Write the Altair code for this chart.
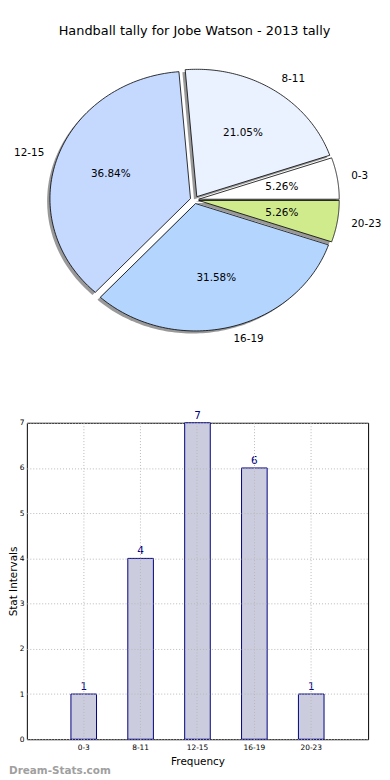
import altair as alt
import pandas as pd

# ---------------- data ----------------
categories = ["0-3", "8-11", "12-15", "16-19", "20-23"]
counts = [1, 4, 7, 6, 1]
slice_colors = ["#ffffff", "#eaf2ff", "#c5d9ff", "#b4d5fe", "#d0eb8c"]
y_ticks = [0, 1, 2, 3, 4, 5, 6, 7]
chart_title = "Handball tally for Jobe Watson - 2013 tally"
x_title = "Frequency"
y_title = "Stat Intervals"
watermark = ["Dream-Stats.com"]

df = pd.DataFrame({"label": categories, "value": counts, "idx": list(range(len(categories)))})
wm_df = pd.DataFrame({"t": watermark})

FONT = "DejaVu Sans"

# ---------------- pie geometry (style) ----------------
N = 90            # arc sampling steps
EXPLODE = 0.03
SHADOW = 0.02
PIE_W, PIE_H = 344, 300
RX, RY = 141.7, 128.4     # pixel size of unit radius (elliptical, like matplotlib)
CX, CY = 169.0, 150.3     # pie centre inside the view
x_dom = [-CX / RX, (PIE_W - CX) / RX]
y_dom = [-(PIE_H - CY) / RY, CY / RY]
xs = alt.Scale(domain=x_dom, nice=False, zero=False)
ys = alt.Scale(domain=y_dom, nice=False, zero=False)

base = (
    alt.Chart(df)
    .transform_window(cum="sum(value)", sort=[alt.SortField("idx")], frame=[None, 0])
    .transform_joinaggregate(total="sum(value)")
    .transform_calculate(
        a0="(datum.cum - datum.value) / datum.total * 2 * PI",
        a1="datum.cum / datum.total * 2 * PI",
    )
    .transform_calculate(mid="(datum.a0 + datum.a1) / 2")
    .transform_calculate(
        ex=f"{EXPLODE} * cos(datum.mid)",
        ey=f"{EXPLODE} * sin(datum.mid)",
    )
)

wedge = (
    base.transform_calculate(k=f"sequence(0, {N + 3})")
    .transform_flatten(["k"])
    .transform_calculate(
        t=f"clamp((datum.k - 1) / {N}, 0, 1)",
        isc=f"datum.k == 0 || datum.k == {N + 2}",
    )
    .transform_calculate(ang="datum.a0 + (datum.a1 - datum.a0) * datum.t")
    .transform_calculate(
        px="datum.ex + (datum.isc ? 0 : cos(datum.ang))",
        py="datum.ey + (datum.isc ? 0 : sin(datum.ang))",
    )
    .transform_calculate(
        sx=f"datum.px - {SHADOW}",
        sy=f"datum.py - {SHADOW}",
    )
)

shadows = wedge.mark_line(
    filled=True, fill="#333333", fillOpacity=0.5, stroke="transparent", strokeWidth=0
).encode(
    x=alt.X("sx:Q", scale=xs, axis=None),
    y=alt.Y("sy:Q", scale=ys, axis=None),
    detail="label:N",
    order="k:Q",
)

wedges = wedge.mark_line(
    filled=True, stroke="black", strokeWidth=0.8, strokeJoin="round"
).encode(
    x=alt.X("px:Q", scale=xs, axis=None),
    y=alt.Y("py:Q", scale=ys, axis=None),
    color=alt.Color("label:N", scale=alt.Scale(domain=categories, range=slice_colors), legend=None),
    detail="label:N",
    order="k:Q",
)

lab = base.transform_calculate(
    lx="datum.ex + 1.1 * cos(datum.mid)",
    ly="datum.ey + 1.1 * sin(datum.mid)",
    qx="datum.ex + 0.6 * cos(datum.mid)",
    qy="datum.ey + 0.6 * sin(datum.mid)",
    pct="format(datum.value / datum.total * 100, '.2f') + '%'",
)

left_labels = lab.transform_filter("cos(datum.mid) > 0").mark_text(
    align="left", baseline="middle", font=FONT, fontSize=10.5, color="black"
).encode(x=alt.X("lx:Q", scale=xs, axis=None), y=alt.Y("ly:Q", scale=ys, axis=None), text="label:N")

right_labels = lab.transform_filter("cos(datum.mid) <= 0").mark_text(
    align="right", baseline="middle", font=FONT, fontSize=10.5, color="black"
).encode(x=alt.X("lx:Q", scale=xs, axis=None), y=alt.Y("ly:Q", scale=ys, axis=None), text="label:N")

pct_labels = lab.mark_text(
    align="center", baseline="middle", font=FONT, fontSize=10.5, color="black"
).encode(x=alt.X("qx:Q", scale=xs, axis=None), y=alt.Y("qy:Q", scale=ys, axis=None), text="pct:N")

pie = alt.layer(shadows, wedges, left_labels, right_labels, pct_labels).properties(
    width=PIE_W,
    height=PIE_H,
    title=alt.TitleParams(
        text=chart_title, font=FONT, fontSize=13, fontWeight="normal", color="black",
        anchor="middle", dx=-3, offset=13,
    ),
    view=alt.ViewBackground(stroke="transparent"),
)

# ---------------- bar chart ----------------
BAR_W, BAR_H = 344, 319

bar_base = alt.Chart(df).encode(
    x=alt.X(
        "label:N",
        sort=categories,
        scale=alt.Scale(paddingInner=0, paddingOuter=0.5),
        axis=alt.Axis(
            title=x_title, titleFont=FONT, titleFontSize=10.5, titleFontWeight="normal",
            titleColor="black", titlePadding=6,
            labelAngle=0, labelFont=FONT, labelFontSize=7.5, labelColor="black", labelPadding=4,
            ticks=False, domain=False, grid=True, gridColor="#b8b8b8", gridDash=[1, 2],
            gridWidth=1, zindex=1,
        ),
    ),
    y=alt.Y(
        "value:Q",
        scale=alt.Scale(domain=[0, 7], nice=False),
        axis=alt.Axis(
            values=y_ticks, title=y_title, titleFont=FONT, titleFontSize=10.5,
            titleFontWeight="normal", titleColor="black", titleAngle=270,
            titleX=-18, titleY=BAR_H / 2, titleBaseline="top", titleAlign="center",
            labelFont=FONT, labelFontSize=7.5, labelColor="black", labelPadding=3,
            ticks=False, domain=False, grid=True, gridColor="#b8b8b8", gridDash=[1, 2],
            gridWidth=1, zindex=1,
        ),
    ),
)

bars = bar_base.mark_bar(
    width=alt.RelativeBandSize(0.45), fill="#ccccdf", stroke="#000080", strokeWidth=1
)
vals = bar_base.mark_text(
    baseline="bottom", dy=-2, color="#000080", font=FONT, fontSize=10.5
).encode(text="value:Q")

wm = alt.Chart(wm_df).mark_text(
    align="left", baseline="middle", font=FONT, fontSize=10.5, fontWeight="bold", color="#a0a0a0"
).encode(x=alt.value(-18), y=alt.value(BAR_H + 32), text="t:N")

bar = alt.layer(bars, vals, wm).properties(
    width=BAR_W, height=BAR_H,
    view=alt.ViewBackground(stroke="black", strokeWidth=1),
)

chart = (
    alt.vconcat(pie, bar, spacing=75, bounds="flush")
    .properties(padding={"left": 0, "top": 13, "right": 0, "bottom": 0})
    .configure(font=FONT)
)

chart.save("out.html", embed_options={"renderer": "svg", "actions": False})
